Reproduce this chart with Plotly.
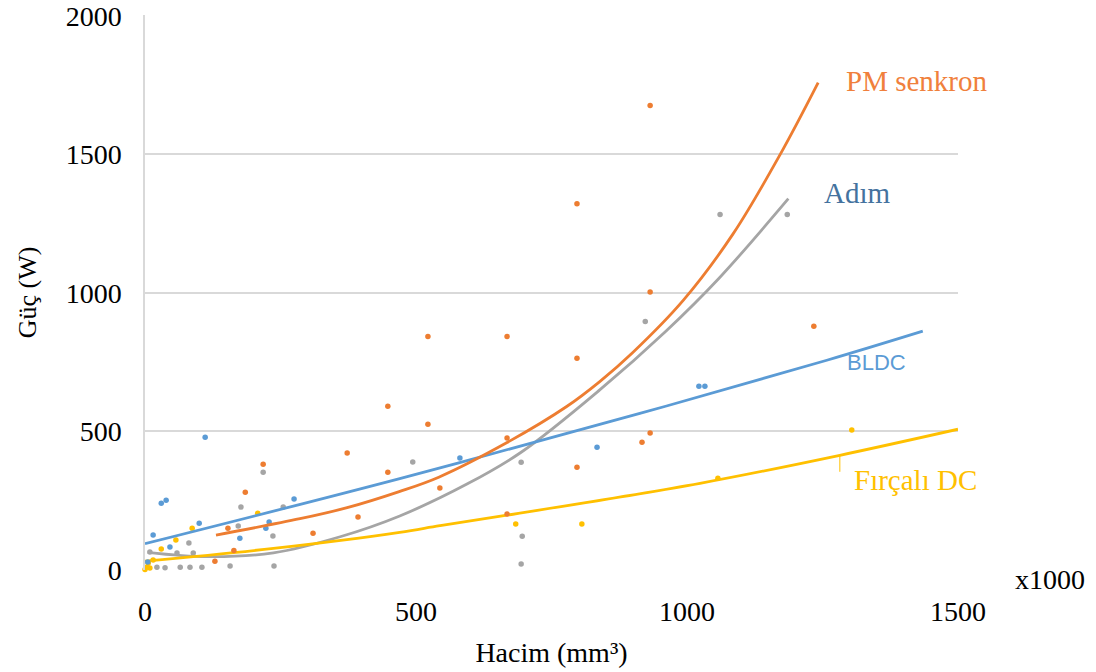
import plotly.graph_objects as go

# ---- scatter data (volume x1000 mm^3, power W) ----
pm_x = [932, 797, 932, 1234, 522, 668, 797, 448, 522, 932, 668, 917, 373, 218, 797, 448, 544, 185, 393, 310, 668, 153, 129, 164]
pm_y = [1676, 1322, 1003, 880, 843, 843, 764, 591, 526, 494, 476, 461, 422, 382, 371, 353, 296, 281, 191, 133, 202, 151, 32, 70]

bldc_x = [111, 30, 39, 275, 100, 229, 223, 175, 15, 46, 581, 834, 1022, 1033, 5]
bldc_y = [479, 241, 252, 256, 169, 173, 151, 115, 126, 83, 404, 443, 663, 663, 29]

adim_x = [1061, 1185, 923, 494, 694, 218, 177, 255, 172, 236, 81, 59, 89, 696, 694, 157, 238, 105, 83, 65, 37, 22, 9]
adim_y = [1283, 1283, 897, 390, 389, 353, 227, 227, 159, 123, 97, 61, 61, 122, 22, 14, 14, 10, 10, 10, 8, 10, 65]

dc_x = [1304, 1057, 684, 806, 208, 87, 57, 30, 4, 6, 15, 0, 9]
dc_y = [505, 331, 166, 166, 205, 151, 108, 76, 11, 25, 36, 2, 7]

# ---- trend lines ----
pm_tx = [131, 286, 373, 469, 542, 668, 778, 839, 900, 993, 1085, 1172, 1242]
pm_ty = [126, 185, 225, 283, 335, 460, 590, 680, 785, 973, 1213, 1500, 1759]

adim_tx = [5, 114, 237, 360, 470, 594, 694, 839, 960, 1060, 1187]
adim_ty = [64, 48, 62, 120, 195, 310, 425, 650, 860, 1055, 1340]

bldc_tx = [0, 470, 913, 1258, 1435]
bldc_ty = [95, 330, 565, 757, 862]

dc_tx = [0, 237, 470, 544, 668, 1024, 1282, 1500]
dc_ty = [32, 78, 136, 160, 198, 313, 414, 508]

ORANGE = "#ED7D31"
BLUE = "#5B9BD5"
GRAY = "#A5A5A5"
YELLOW = "#FFC000"
SERIF = "Liberation Serif, Times New Roman, serif"

fig = go.Figure()

def add_series(x, y, tx, ty, color):
    fig.add_trace(go.Scatter(x=tx, y=ty, mode="lines", line=dict(color=color, width=2.8, shape="spline", smoothing=1.0),
                             hoverinfo="skip", cliponaxis=False, showlegend=False))
    fig.add_trace(go.Scatter(x=x, y=y, mode="markers", marker=dict(color=color, size=5.5),
                             cliponaxis=False, showlegend=False))

add_series(adim_x, adim_y, adim_tx, adim_ty, GRAY)
add_series(dc_x, dc_y, dc_tx, dc_ty, YELLOW)
add_series(bldc_x, bldc_y, bldc_tx, bldc_ty, BLUE)
add_series(pm_x, pm_y, pm_tx, pm_ty, ORANGE)

annotations = [
    dict(x=1424, y=1766, text="PM senkron", font=dict(family=SERIF, size=29, color="#F0803C")),
    dict(x=1314, y=1362, text="Adım", font=dict(family=SERIF, size=29, color="#44729E")),
    dict(x=1349, y=750, text="BLDC", font=dict(family="Liberation Sans, Arial, sans-serif", size=22, color=BLUE)),
    dict(x=1421, y=324, text="Fırçalı DC", font=dict(family=SERIF, size=29, color=YELLOW)),
]
for a in annotations:
    a.update(xref="x", yref="y", showarrow=False, xanchor="center", yanchor="middle")
fig.update_layout(annotations=annotations)
fig.add_annotation(x=1282, y=414, xref="x", yref="y", ax=0, ay=18, text="", showarrow=True,
                   arrowhead=0, arrowwidth=1, arrowcolor=YELLOW)
fig.add_annotation(x=1.113, y=-0.018, xref="paper", yref="paper", text="x1000", showarrow=False,
                   xanchor="center", yanchor="middle",
                   font=dict(family=SERIF, size=28, color="black"))

fig.update_layout(
    width=1096, height=672,
    margin=dict(l=145, r=138, t=15, b=102),
    paper_bgcolor="white", plot_bgcolor="white",
    showlegend=False,
    xaxis=dict(range=[0, 1500], tickvals=[0, 500, 1000, 1500], showgrid=False, zeroline=False,
               showline=False, ticks="", ticklabelstandoff=22, automargin=False,
               tickfont=dict(family=SERIF, size=28, color="black"),
               title=dict(text="Hacim (mm³)", standoff=16, font=dict(family=SERIF, size=28, color="black"))),
    yaxis=dict(range=[0, 2003], tickvals=[0, 500, 1000, 1500, 2000], showgrid=True, gridcolor="#D9D9D9",
               gridwidth=1.5, zeroline=False, showline=True, linecolor="#D9D9D9", linewidth=1.5, ticks="",
               ticklabelstandoff=16, automargin=False, ticklabeloverflow="allow",
               tickfont=dict(family=SERIF, size=28, color="black"),
               title=dict(text="Güç (W)", standoff=22, font=dict(family=SERIF, size=26, color="black"))),
)

fig.write_html("out.html", config={"displayModeBar": False},
               post_script="document.body.style.margin='0';document.body.style.overflow='hidden';")
